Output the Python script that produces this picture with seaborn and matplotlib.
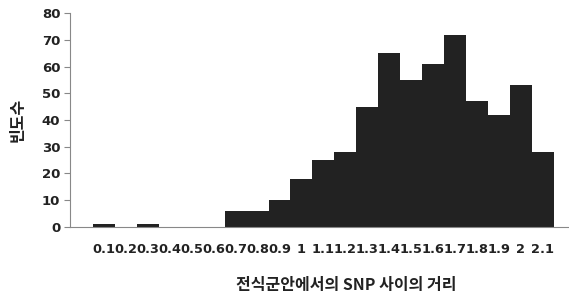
import matplotlib
matplotlib.use("Agg")
import matplotlib.pyplot as plt
import seaborn as sns
import pandas as pd

categories = ["0.1", "0.2", "0.3", "0.4", "0.5", "0.6", "0.7", "0.8", "0.9", "1",
              "1.1", "1.2", "1.3", "1.4", "1.5", "1.6", "1.7", "1.8", "1.9", "2", "2.1"]
counts = [1, 0, 1, 0, 0, 0, 6, 6, 10, 18,
          25, 28, 45, 65, 55, 61, 72, 47, 42, 53, 28]
y_ticks = [0, 10, 20, 30, 40, 50, 60, 70, 80]

sns.set_theme(style="white")
plt.rcParams['font.family'] = ['Noto Sans CJK KR', 'DejaVu Sans']

df = pd.DataFrame({"dist": categories, "count": counts})

fig = plt.figure(figsize=(5.69, 2.99), dpi=100)
ax = fig.add_axes([70/569, 1 - 226.7/299, 1 - 70/569, (226.7 - 13.3)/299])

sns.barplot(data=df, x="dist", y="count", order=categories, color="#222222",
            saturation=1, width=1.0, linewidth=0, ax=ax)

ax.set_ylim(0, 80)
ax.set_yticks(y_ticks)
ax.set_xlim(-1.55, 21.2)

for s in ["top", "right"]:
    ax.spines[s].set_visible(False)
ax.spines["left"].set_color("#888888")
ax.spines["bottom"].set_color("#888888")
ax.spines["left"].set_linewidth(0.8)
ax.spines["bottom"].set_linewidth(0.8)

ax.tick_params(axis="y", which="major", length=4, width=0.8, color="#888888",
               pad=3, left=True)
ax.tick_params(axis="x", length=0, pad=12)
for lbl in ax.get_yticklabels():
    lbl.set_family("DejaVu Sans")
    lbl.set_fontweight("bold")
    lbl.set_fontsize(9.5)
    lbl.set_color("#222222")
for lbl in ax.get_xticklabels():
    lbl.set_family("DejaVu Sans")
    lbl.set_fontweight("bold")
    lbl.set_fontsize(9.3)
    lbl.set_color("#222222")

ax.set_xlabel("전식군안에서의 SNP 사이의 거리", fontsize=11.5, fontweight="bold",
              color="#222222")
ax.xaxis.set_label_coords(0.553, -0.235)
ax.set_ylabel("빈도수", fontsize=11.5, fontweight="bold", color="#222222")
ax.yaxis.set_label_coords(-44/499, 0.5)

fig.savefig("out.png", dpi=100)
